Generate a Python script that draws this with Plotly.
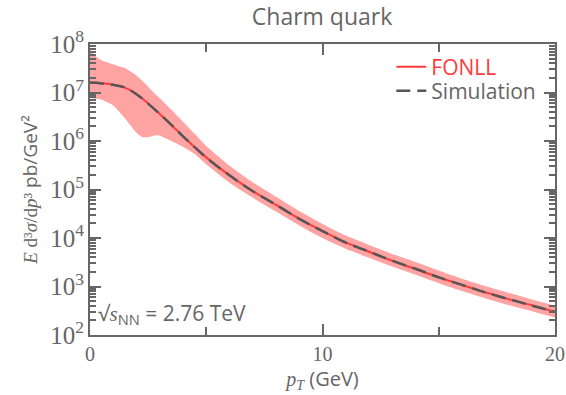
import plotly.graph_objects as go

# ---- data ----
pt = [0, 0.25, 0.5, 1, 1.5, 2, 2.5, 3, 3.5, 4, 4.5, 5, 6, 7, 8, 9, 10,
      11, 12, 13, 14, 15, 16, 17, 18, 19, 20]
fonll = [1.58e7, 1.58e7, 1.55e7, 1.45e7, 1.26e7, 9.3e6, 5.9e6, 3.6e6, 2.14e6,
         1.26e6, 7.4e5, 4.6e5, 1.95e5, 9.3e4, 4.8e4, 2.5e4, 1.38e4, 8.1e3,
         5.2e3, 3.4e3, 2.3e3, 1.55e3, 1.07e3, 760, 550, 410, 300]
simulation = [1.60e7, 1.58e7, 1.54e7, 1.44e7, 1.27e7, 9.2e6, 5.9e6, 3.6e6,
              2.15e6, 1.25e6, 7.5e5, 4.55e5, 1.96e5, 9.2e4, 4.85e4, 2.48e4,
              1.39e4, 8.0e3, 5.25e3, 3.38e3, 2.32e3, 1.54e3, 1.08e3, 755,
              552, 405, 302]

pt_band = [0, 0.25, 0.5, 1, 1.5, 2, 2.25, 2.5, 2.85, 3, 3.5, 4, 4.5, 5, 6, 7,
           8, 9, 10, 11, 12, 13, 14, 15, 16, 17, 18, 19, 20]
band_upper = [7.6e7, 5.6e7, 4.6e7, 3.8e7, 3.2e7, 2.24e7, 1.74e7, 1.32e7,
              8.9e6, 7.6e6, 4.4e6, 2.5e6, 1.41e6, 7.9e5, 3.1e5, 1.41e5,
              7.1e4, 3.6e4, 1.95e4, 1.12e4, 7.2e3, 4.7e3, 3.2e3, 2.14e3,
              1.45e3, 1.02e3, 740, 540, 400]
band_lower = [7.8e6, 7.4e6, 7.1e6, 5.4e6, 2.95e6, 1.48e6, 1.2e6, 1.2e6,
              1.32e6, 1.29e6, 1.0e6, 7.6e5, 5.4e5, 3.3e5, 1.38e5, 6.8e4,
              3.5e4, 1.82e4, 1.0e4, 6.0e3, 3.9e3, 2.57e3, 1.74e3, 1.17e3,
              810, 575, 415, 310, 230]

GRAY = "#666666"
RED = "#ff3b3b"
SERIF = "Liberation Serif"
SANS = "Open Sans"

fig = go.Figure()
fig.add_trace(go.Scatter(x=pt_band, y=band_lower, mode="lines",
                         line=dict(width=0, shape="spline", smoothing=0.6),
                         showlegend=False, hoverinfo="skip"))
fig.add_trace(go.Scatter(x=pt_band, y=band_upper, mode="lines",
                         line=dict(width=0, shape="spline", smoothing=0.6),
                         fill="tonexty", fillcolor="#ffa3a3",
                         showlegend=False, hoverinfo="skip"))
fig.add_trace(go.Scatter(x=pt, y=fonll, mode="lines", legend="legend",
                         name=f"<span style='color:{RED}'>FONLL</span>",
                         line=dict(color=RED, width=2, shape="spline")))
fig.add_trace(go.Scatter(x=pt, y=simulation, mode="lines", legend="legend2",
                         name="Simulation",
                         line=dict(color="#555555", width=2.5, dash="14px,7px",
                                   shape="spline")))

axis_common = dict(showline=True, linecolor=GRAY, linewidth=2, mirror="allticks",
                   ticks="inside", tickcolor=GRAY, tickwidth=2, showgrid=False,
                   zeroline=False, automargin=False,
                   tickfont=dict(family=SERIF, size=20, color=GRAY))

fig.update_xaxes(range=[0, 20], dtick=10, ticklen=11,
                 minor=dict(ticks="inside", dtick=5, ticklen=8, tickcolor=GRAY,
                            tickwidth=2, showgrid=False),
                 title=dict(text=f"<span style=\"font-family:'{SERIF}'\"><i>p</i><sub><i>T</i></sub></span> (GeV)",
                            font=dict(family=SANS, size=20, color=GRAY), standoff=4),
                 **axis_common)
fig.update_yaxes(type="log", range=[2, 8], dtick=1, ticklen=11,
                 exponentformat="power",
                 minor=dict(ticks="inside", dtick="D1", ticklen=6, tickcolor=GRAY,
                            tickwidth=2, showgrid=False),
                 title=dict(text=f"<span style=\"font-family:'{SERIF}'\"><i>E</i> d³<i>σ</i>/d<i>p</i>³</span> pb/GeV²",
                            font=dict(family=SANS, size=19, color=GRAY), standoff=8),
                 **axis_common)

fig.add_annotation(x=0.012, y=0.015, xref="paper", yref="paper",
                   xanchor="left", yanchor="bottom", showarrow=False,
                   text=f"√<span style=\"font-family:'{SERIF}'\"><i>s</i></span><sub>NN</sub> = 2.76 TeV",
                   font=dict(family=SANS, size=21, color=GRAY))

legend_common = dict(xanchor="left", yanchor="middle", bgcolor="rgba(0,0,0,0)",
                     font=dict(family=SANS, size=21, color=GRAY),
                     itemwidth=30, borderwidth=0)

fig.update_layout(
    width=566, height=395,
    margin=dict(l=90, r=11, t=44, b=60),
    paper_bgcolor="white", plot_bgcolor="white",
    title=dict(text="Charm quark", x=0.569, xanchor="center", y=0.958,
               yanchor="middle", font=dict(family=SANS, size=23, color=GRAY)),
    legend=dict(x=0.648, y=(335 - 67) / 291, **legend_common),
    legend2=dict(x=0.648, y=(335 - 91) / 291, **legend_common),
    showlegend=True,
)

fig.write_html("out.html")
